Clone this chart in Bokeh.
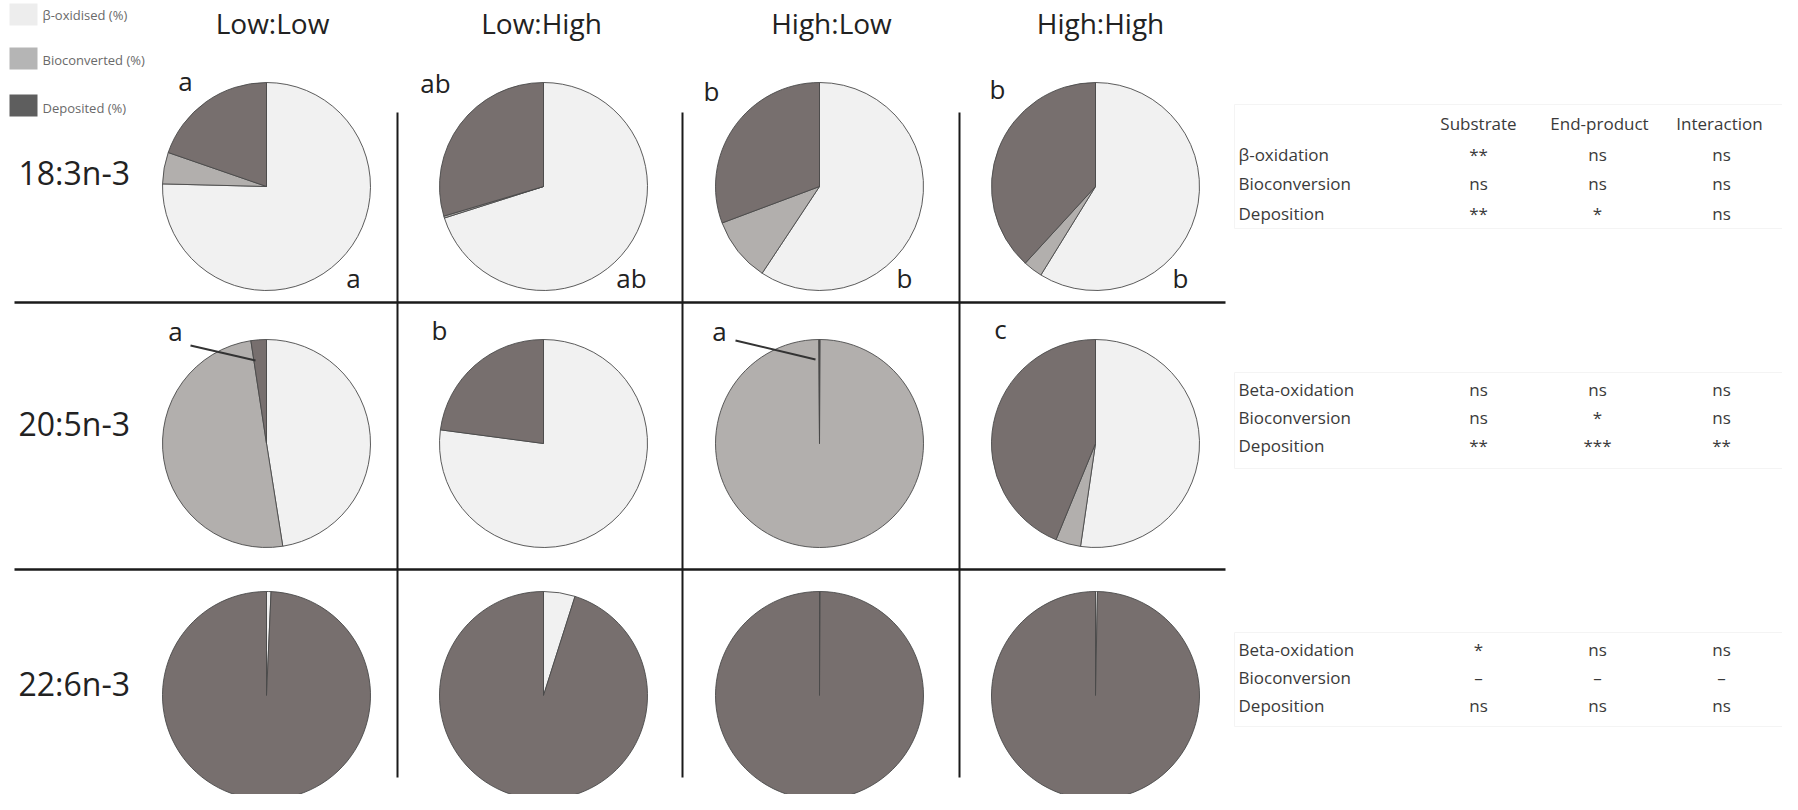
import math
from bokeh.plotting import figure
from bokeh.models import ColumnDataSource, Range1d
from bokeh.core.properties import value
from bokeh.embed import file_html
from bokeh.resources import INLINE

# ---------------- data ----------------
conditions = ["Low:Low", "Low:High", "High:Low", "High:High"]
fatty_acids = ["18:3n-3", "20:5n-3", "22:6n-3"]
fates = ["β-oxidised (%)", "Bioconverted (%)", "Deposited (%)"]

beta_18_3 = [75.4, 70.1, 59.3, 58.8]
bio_18_3 = [4.9, 0.3, 10.0, 3.0]
dep_18_3 = [19.7, 29.6, 30.7, 38.2]

beta_20_5 = [47.5, 77.1, 0.1, 52.3]
bio_20_5 = [50.1, 0.0, 99.8, 3.9]
dep_20_5 = [2.4, 22.9, 0.1, 43.8]

beta_22_6 = [0.7, 4.9, 0.1, 0.3]
bio_22_6 = [0.0, 0.0, 0.0, 0.0]
dep_22_6 = [99.3, 95.1, 99.9, 99.7]

letters_top_18_3 = ["a", "ab", "b", "b"]
letters_bottom_18_3 = ["a", "ab", "b", "b"]
letters_top_20_5 = ["a", "b", "a", "c"]

stat_columns = ["Substrate", "End-product", "Interaction"]
stat_rows_18_3 = ["β-oxidation", "Bioconversion", "Deposition"]
stat_rows_20_5 = ["Beta-oxidation", "Bioconversion", "Deposition"]
stat_rows_22_6 = ["Beta-oxidation", "Bioconversion", "Deposition"]
stats_18_3 = [["**", "ns", "ns"], ["ns", "ns", "ns"], ["**", "*", "ns"]]
stats_20_5 = [["ns", "ns", "ns"], ["ns", "*", "ns"], ["**", "***", "**"]]
stats_22_6 = [["*", "ns", "ns"], ["–", "–", "–"], ["ns", "ns", "ns"]]

# ---------------- styling / layout ----------------
fate_colors = ["#f1f1f1", "#b2afad", "#776f6e"]
legend_colors = ["#ededed", "#b5b5b5", "#5e5e5e"]
FONT = value("Open Sans")

col_x = [274, 551, 827, 1103]
row_y = [194, 451, 703]
R = 104


def Y(ry):
    return 810 - ry


p = figure(width=1782, height=794, x_range=Range1d(8, 1790), y_range=Range1d(8, 802),
           output_backend="svg", toolbar_location=None, min_border=0)
p.xaxis.visible = False
p.yaxis.visible = False
p.xgrid.visible = False
p.ygrid.visible = False
p.outline_line_color = None

# ---------------- pies ----------------
rows = [(beta_18_3, bio_18_3, dep_18_3), (beta_20_5, bio_20_5, dep_20_5), (beta_22_6, bio_22_6, dep_22_6)]
wx, wy, ws, we, wc = [], [], [], [], []
for ri, (beta, bio, dep) in enumerate(rows):
    for ci in range(4):
        vals = [beta[ci], bio[ci], dep[ci]]
        tot = sum(vals)
        cum = 0.0
        for k, v in enumerate(vals):
            if v <= 0:
                continue
            a0 = math.pi / 2 - 2 * math.pi * cum / tot
            cum += v
            a1 = math.pi / 2 - 2 * math.pi * cum / tot
            wx.append(col_x[ci]); wy.append(Y(row_y[ri]))
            ws.append(a0); we.append(a1); wc.append(fate_colors[k])
src = ColumnDataSource(dict(x=wx, y=wy, s=ws, e=we, c=wc))
p.wedge(x="x", y="y", radius=R, start_angle="s", end_angle="e", direction="clock",
        fill_color="c", line_color="#4a4a4a", line_width=0.9, source=src)

# ---------------- grid lines ----------------
for hy in [310, 577]:
    p.line([22, 1233], [Y(hy), Y(hy)], line_color="#1a1a1a", line_width=2.5)
for vx in [405, 690, 967]:
    p.line([vx, vx], [Y(120), Y(785)], line_color="#1a1a1a", line_width=2)

# ---------------- headers / row labels ----------------
header_x = [280, 549, 839, 1108]
p.text(x=header_x, y=[Y(30)] * 4, text=conditions, text_font=FONT, text_font_size="28px",
       text_align="center", text_baseline="middle", text_color="#222222")
p.text(x=[26] * 3, y=[Y(180), Y(431), Y(691)], text=fatty_acids, text_font=FONT,
       text_font_size="32px", text_align="left", text_baseline="middle", text_color="#222222")

# ---------------- significance letters ----------------
p.text(x=[193, 443, 719, 1005], y=[Y(88), Y(90), Y(98), Y(96)], text=letters_top_18_3,
       text_font=FONT, text_font_size="26px", text_align="center", text_baseline="middle",
       text_color="#222222")
p.text(x=[361, 639, 912, 1188], y=[Y(285)] * 4, text=letters_bottom_18_3,
       text_font=FONT, text_font_size="26px", text_align="center", text_baseline="middle",
       text_color="#222222")
p.text(x=[183, 447, 727, 1008], y=[Y(338), Y(337), Y(338), Y(336)], text=letters_top_20_5,
       text_font=FONT, text_font_size="26px", text_align="center", text_baseline="middle",
       text_color="#222222")
p.line([198, 263], [Y(353), Y(368)], line_color="#333333", line_width=2)
p.line([743, 823], [Y(348), Y(367)], line_color="#333333", line_width=2)

# ---------------- legend ----------------
p.rect(x=[31, 31, 31], y=[Y(22), Y(66), Y(113)], width=28, height=22,
       fill_color=legend_colors, line_color=None)
p.text(x=[50, 50, 50], y=[Y(22), Y(67), Y(115)], text=fates, text_font=FONT,
       text_font_size="13px", text_align="left", text_baseline="middle", text_color="#6a6a6a")

# ---------------- stats tables ----------------
tab_cols_x = [1486, 1605, 1729]
p.text(x=[1486, 1607, 1727], y=[Y(131)] * 3, text=stat_columns, text_font=FONT,
       text_font_size="17px", text_align="center", text_baseline="middle", text_color="#3a3a3a")
for names, stats, ys, box in [
    (stat_rows_18_3, stats_18_3, [162, 191, 221], (1242, 112, 1792, 236)),
    (stat_rows_20_5, stats_20_5, [397, 425, 453], (1242, 380, 1790, 476)),
    (stat_rows_22_6, stats_22_6, [657, 685, 713], (1242, 640, 1790, 734)),
]:
    x0, y0, x1, y1 = box
    p.line([x0, x1, x1, x0, x0], [Y(y0), Y(y0), Y(y1), Y(y1), Y(y0)],
           line_color="#f4f4f4", line_width=1)
    p.text(x=[1246] * 3, y=[Y(v) for v in ys], text=names, text_font=FONT,
           text_font_size="17px", text_align="left", text_baseline="middle", text_color="#3a3a3a")
    tx, ty, tt = [], [], []
    for ri, row in enumerate(stats):
        for ci, s in enumerate(row):
            tx.append(tab_cols_x[ci]); ty.append(Y(ys[ri])); tt.append(s)
    p.text(x=tx, y=ty, text=tt, text_font=FONT, text_font_size="17px",
           text_align="center", text_baseline="middle", text_color="#3a3a3a")

open("out.html", "w").write(file_html(p, INLINE))
